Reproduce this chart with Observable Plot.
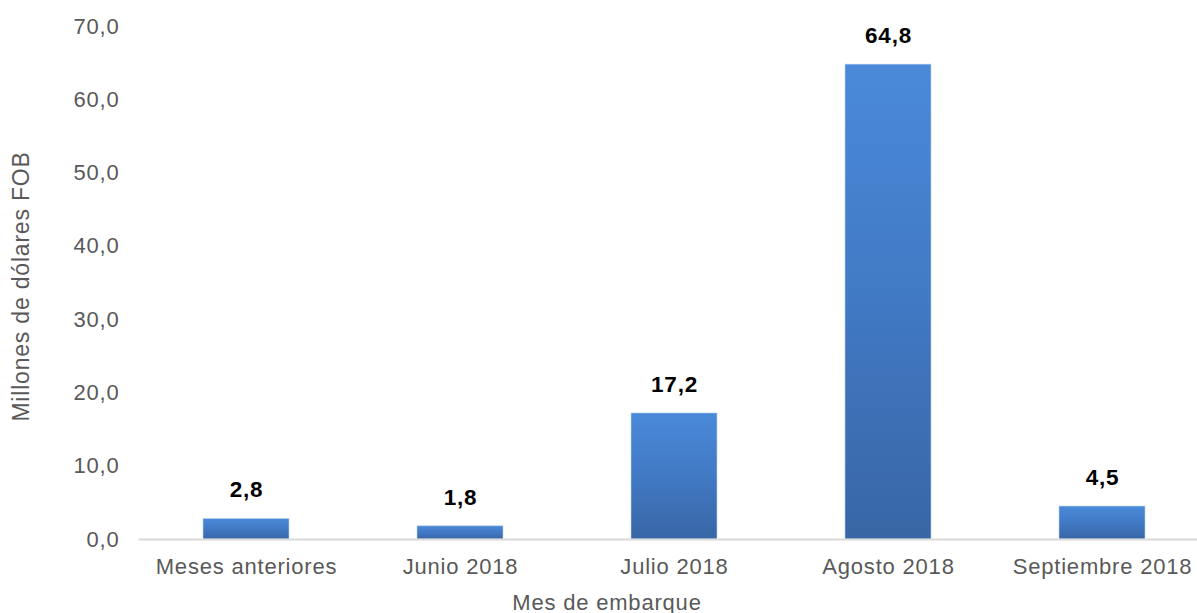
<!DOCTYPE html>
<html>
<head>
<meta charset="utf-8">
<script src="https://cdn.jsdelivr.net/npm/d3@7"></script>
<script src="https://cdn.jsdelivr.net/npm/@observablehq/plot@0.6"></script>
<style>
  html, body { margin: 0; padding: 0; background: #ffffff; overflow: hidden; }
  #chart { width: 1197px; height: 613px; overflow: hidden; }
</style>
</head>
<body>
<div id="chart"></div>
<script>
const categories = ["Meses anteriores", "Junio 2018", "Julio 2018", "Agosto 2018", "Septiembre 2018"];
const values = [2.8, 1.8, 17.2, 64.8, 4.5];
const yTicks = [0, 10, 20, 30, 40, 50, 60, 70];

const data = categories.map((c, i) => ({mes: c, valor: values[i]}));
const fmt = d => d.toFixed(1).replace(".", ",");

const defs = () => {
  const ns = "http://www.w3.org/2000/svg";
  const d = document.createElementNS(ns, "defs");
  const g = document.createElementNS(ns, "linearGradient");
  g.setAttribute("id", "barGrad");
  g.setAttribute("x1", "0"); g.setAttribute("y1", "0");
  g.setAttribute("x2", "0"); g.setAttribute("y2", "1");
  [["0", "#4a8ad9"], ["0.5", "#4179c4"], ["1", "#3866a5"]].forEach(([o, c]) => {
    const s = document.createElementNS(ns, "stop");
    s.setAttribute("offset", o);
    s.setAttribute("stop-color", c);
    g.appendChild(s);
  });
  d.appendChild(g);
  return d;
};

const chart = Plot.plot({
  width: 1197,
  height: 613,
  marginLeft: 138.5,
  marginRight: -11.5,
  marginTop: 26,
  marginBottom: 74,
  style: {fontFamily: "'Liberation Sans', Arial, sans-serif", fontSize: "22px", letterSpacing: "0.8px", color: "#595959", background: "#ffffff"},
  x: {domain: categories, paddingInner: 0.6, paddingOuter: 0.3, label: null},
  y: {domain: [0, 70], label: null},
  marks: [
    defs,
    Plot.axisY({ticks: yTicks, tickFormat: fmt, tickSize: 0, tickPadding: 19.5, fill: "#595959", label: null}),
    Plot.axisX({tickSize: 0, tickPadding: 19, fill: "#595959", label: null}),
    Plot.barY(data, {x: "mes", y: "valor", fill: "url(#barGrad)", stroke: "#bcd3ef", strokeWidth: 0.6}),
    Plot.ruleY([0], {stroke: "#d9d9d9", strokeWidth: 2}),
    Plot.text(data, {x: "mes", y: "valor", text: d => fmt(d.valor), lineAnchor: "bottom", dy: -21.5, fontWeight: "bold", fontSize: 22.5, fill: "#000000"}),
    Plot.text(["Millones de dólares FOB"], {frameAnchor: "left", textAnchor: "middle", rotate: -90, dx: -117.5, dy: 3.5, lineAnchor: "middle", fontSize: 23, fill: "#595959"}),
    Plot.text(["Mes de embarque"], {frameAnchor: "bottom", textAnchor: "middle", dx: -67, dy: 70, lineAnchor: "bottom", fill: "#595959"})
  ]
});
document.getElementById("chart").appendChild(chart);
</script>
</body>
</html>
